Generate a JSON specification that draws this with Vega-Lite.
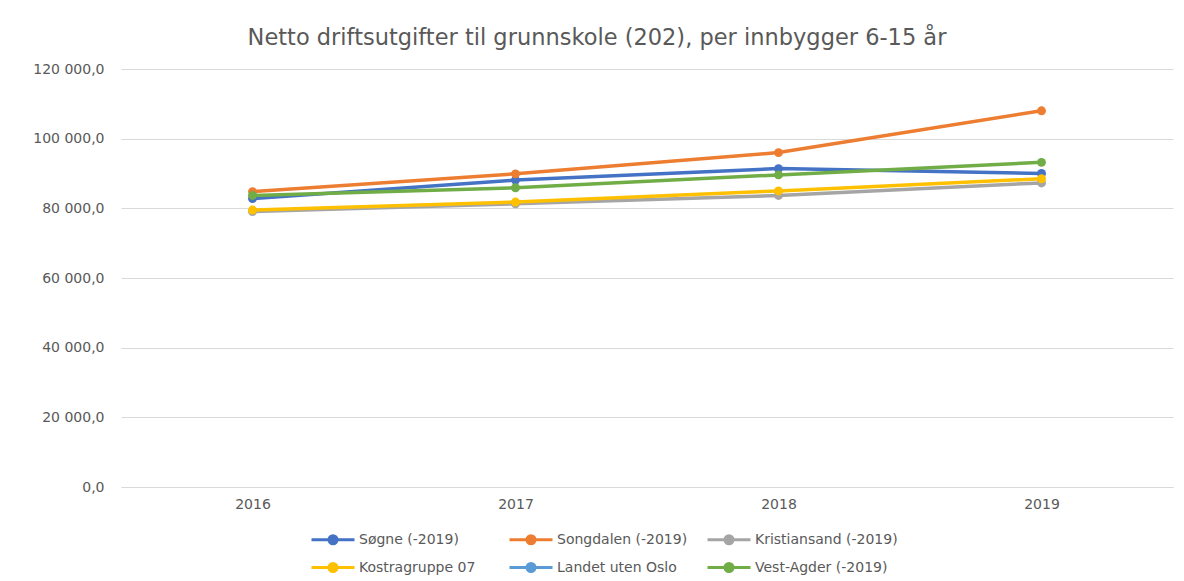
{
  "$schema": "https://vega.github.io/schema/vega-lite/v6.json",
  "autosize": {"type": "none"},
  "width": 1052,
  "height": 418,
  "padding": {"left": 121, "top": 69, "right": 11, "bottom": 94},
  "background": "white",
  "config": {
    "view": {"stroke": null},
    "font": "DejaVu Sans"
  },
  "title": {
    "text": "Netto driftsutgifter til grunnskole (202), per innbygger 6-15 år",
    "fontSize": 22.5,
    "font": "DejaVu Sans",
    "fontWeight": "normal",
    "color": "#595959",
    "anchor": "middle",
    "dx": -50,
    "offset": 13
  },
  "data": {
    "values": [
      {"serie": "Søgne (-2019)", "year": "2016", "value": 82800},
      {"serie": "Søgne (-2019)", "year": "2017", "value": 88100},
      {"serie": "Søgne (-2019)", "year": "2018", "value": 91400},
      {"serie": "Søgne (-2019)", "year": "2019", "value": 90000},
      {"serie": "Songdalen (-2019)", "year": "2016", "value": 84800},
      {"serie": "Songdalen (-2019)", "year": "2017", "value": 89900},
      {"serie": "Songdalen (-2019)", "year": "2018", "value": 96000},
      {"serie": "Songdalen (-2019)", "year": "2019", "value": 108000},
      {"serie": "Kristiansand (-2019)", "year": "2016", "value": 79100},
      {"serie": "Kristiansand (-2019)", "year": "2017", "value": 81300},
      {"serie": "Kristiansand (-2019)", "year": "2018", "value": 83700},
      {"serie": "Kristiansand (-2019)", "year": "2019", "value": 87300},
      {"serie": "Kostragruppe 07", "year": "2016", "value": 79500},
      {"serie": "Kostragruppe 07", "year": "2017", "value": 81800},
      {"serie": "Kostragruppe 07", "year": "2018", "value": 85000},
      {"serie": "Kostragruppe 07", "year": "2019", "value": 88500},
      {"serie": "Vest-Agder (-2019)", "year": "2016", "value": 83700},
      {"serie": "Vest-Agder (-2019)", "year": "2017", "value": 85900},
      {"serie": "Vest-Agder (-2019)", "year": "2018", "value": 89600},
      {"serie": "Vest-Agder (-2019)", "year": "2019", "value": 93200}
    ]
  },
  "mark": {"type": "line", "strokeWidth": 3.5, "point": {"filled": true, "size": 80}},
  "encoding": {
    "x": {
      "field": "year",
      "type": "ordinal",
      "scale": {"type": "point", "padding": 0.5},
      "axis": {
        "title": null,
        "labelAngle": 0,
        "ticks": false,
        "domainColor": "#D9D9D9",
        "domainWidth": 1,
        "labelColor": "#595959",
        "labelFontSize": 14,
        "labelPadding": 10,
        "grid": false
      }
    },
    "y": {
      "field": "value",
      "type": "quantitative",
      "scale": {"domain": [0, 120000], "nice": false},
      "axis": {
        "title": null,
        "values": [0, 20000, 40000, 60000, 80000, 100000, 120000],
        "labelExpr": "replace(replace(format(datum.value, ',.1f'), /,/g, ' '), /\\./g, ',')",
        "ticks": false,
        "domain": false,
        "gridColor": "#D9D9D9",
        "labelColor": "#595959",
        "labelFontSize": 14,
        "labelPadding": 17
      }
    },
    "color": {
      "field": "serie",
      "type": "nominal",
      "scale": {
        "domain": ["Søgne (-2019)", "Songdalen (-2019)", "Kristiansand (-2019)", "Kostragruppe 07", "Landet uten Oslo", "Vest-Agder (-2019)"],
        "range": ["#4472C4", "#ED7D31", "#A5A5A5", "#FFC000", "#5B9BD5", "#70AD47"]
      },
      "legend": {
        "title": null,
        "orient": "none",
        "direction": "horizontal",
        "legendX": 212,
        "legendY": 459,
        "columns": 3,
        "gridAlign": "all",
        "columnPadding": 1,
        "rowPadding": 6,
        "padding": 0,
        "symbolType": "M-3.3,0H1M-1.55,0A0.4,0.4 0 1,0 -0.75,0A0.4,0.4 0 1,0 -1.55,0Z",
        "symbolSize": 400,
        "symbolStrokeWidth": 3,
        "labelFontSize": 14,
        "labelColor": "#595959",
        "labelOffset": 3,
        "encode": {
          "symbols": {"update": {"fill": {"scale": "color", "field": "value"}, "stroke": {"scale": "color", "field": "value"}, "opacity": {"value": 1}}}
        }
      }
    }
  }
}
